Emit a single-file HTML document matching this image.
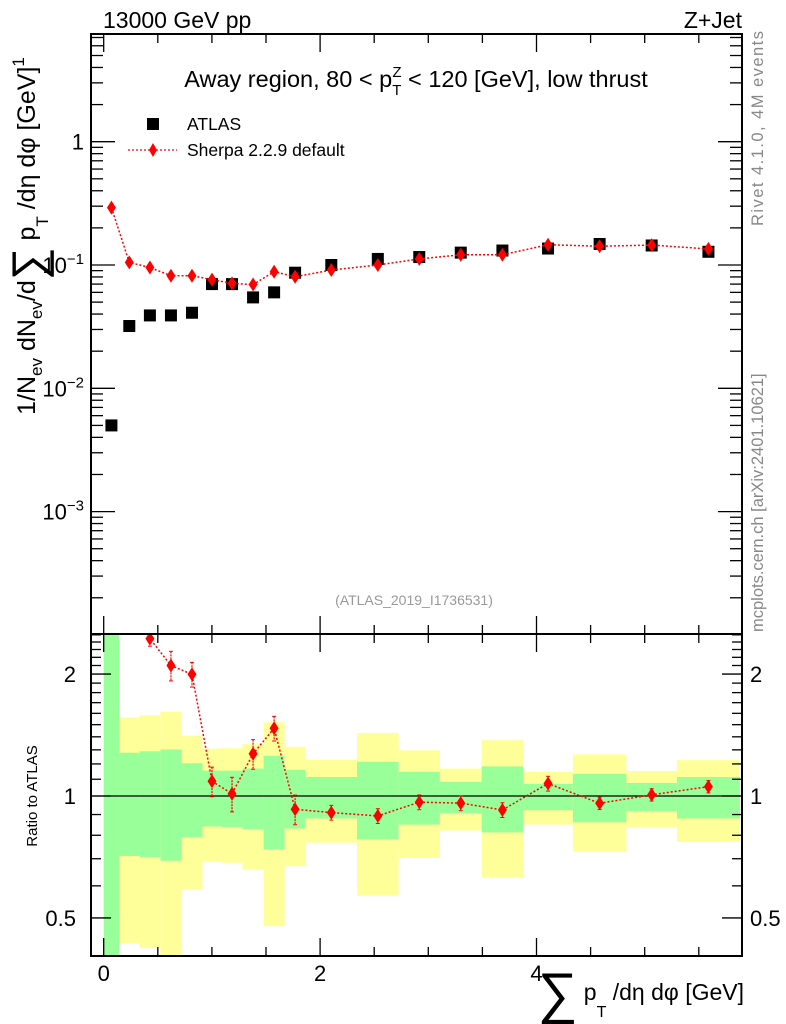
<!DOCTYPE html>
<html><head><meta charset="utf-8">
<style>
html,body{margin:0;padding:0;background:#fff;}
svg{display:block;font-family:"Liberation Sans",Arial,sans-serif;}
</style></head>
<body>
<svg id="chart" width="786" height="1024" viewBox="0 0 786 1024" xmlns="http://www.w3.org/2000/svg">
<defs>
<clipPath id="clipMain"><rect x="91" y="34" width="651" height="600"/></clipPath>
<clipPath id="clipRatio"><rect x="91" y="634" width="651" height="322"/></clipPath>
</defs>
<g id="bands" clip-path="url(#clipRatio)"></g>
<line x1="91" x2="742" y1="796" y2="796" stroke="#000" stroke-width="1.3"/>
<g id="ratioSeries" clip-path="url(#clipRatio)"></g>
<g id="mainSeries" clip-path="url(#clipMain)"></g>
<g id="axes"></g>
<rect x="91" y="34" width="651" height="600" fill="none" stroke="#000" stroke-width="2"/>
<rect x="91" y="634" width="651" height="322" fill="none" stroke="#000" stroke-width="2"/>

<text x="103" y="28" font-size="23">13000 GeV pp</text>
<text x="742" y="28" font-size="23" text-anchor="end">Z+Jet</text>
<text x="416" y="87" font-size="23.5" text-anchor="middle">Away region, 80 &lt; p<tspan dy="8" font-size="15">T</tspan><tspan dx="-9" dy="-18" font-size="15">Z</tspan><tspan dy="10"> &lt; 120 [GeV], low thrust</tspan></text>

<g>
<rect x="147" y="118" width="12" height="12" fill="#000"/>
<text x="187" y="130" font-size="17.5">ATLAS</text>
<line x1="128" x2="177" y1="150" y2="150" stroke="red" stroke-width="1.3" stroke-dasharray="2,2"/>
<polygon points="153,143 157,150 153,157 149,150" fill="red"/>
<text x="187" y="156" font-size="17.5">Sherpa 2.2.9 default</text>
</g>

<text x="414" y="605" font-size="14" fill="#999" text-anchor="middle">(ATLAS_2019_I1736531)</text>
<text transform="translate(763,226) rotate(-90)" font-size="16.5" fill="#888" textLength="195">Rivet 4.1.0,  4M events</text>
<text transform="translate(763,632) rotate(-90)" font-size="16.5" fill="#888">mcplots.cern.ch [arXiv:2401.10621]</text>

<text transform="translate(35,236) rotate(-90)" font-size="25" text-anchor="middle">1/N<tspan dy="7" font-size="17">ev</tspan><tspan dy="-7"> dN</tspan><tspan dy="7" font-size="17">ev</tspan><tspan dy="-7">/d</tspan><tspan font-size="46" dy="9">∑</tspan><tspan dy="-9"> p</tspan><tspan dy="13" font-size="17">T</tspan><tspan dy="-13"> /dη dφ  [GeV]</tspan><tspan dy="-11" font-size="17">1</tspan></text>
<text transform="translate(37,796) rotate(-90)" font-size="15" text-anchor="middle">Ratio to ATLAS</text>
<text x="744" y="1000" font-size="23" text-anchor="end"><tspan font-size="56" dy="12">∑</tspan><tspan dy="-12"> p</tspan><tspan dy="17" font-size="16">T</tspan><tspan dy="-17"> /dη dφ [GeV]</tspan></text>
</svg>
<script>
// ---- data ----
const binEdges = [0,0.143,0.33,0.524,0.719,0.913,1.089,1.283,1.478,1.672,1.866,2.341,2.726,3.107,3.493,3.877,4.336,4.831,5.298,5.88];
const atlasValues = [0.0050,0.032,0.039,0.039,0.041,0.070,0.070,0.0546,0.060,0.0866,0.100,0.112,0.116,0.126,0.131,0.136,0.148,0.144,0.128];
const sherpaValues = [0.292,0.105,0.0954,0.0819,0.0819,0.0761,0.0709,0.0694,0.0882,0.0803,0.0910,0.100,0.112,0.121,0.121,0.146,0.142,0.145,0.135];
const sherpaRelErr = [0.03,0.03,0.03,0.06,0.05,0.06,0.07,0.06,0.05,0.06,0.03,0.03,0.03,0.03,0.03,0.03,0.025,0.025,0.025];
const yellowHi = [3.0,1.563,1.581,1.612,1.410,1.309,1.312,1.342,1.521,1.323,1.229,1.432,1.296,1.169,1.373,1.147,1.267,1.153,1.226];
const greenHi  = [3.0,1.279,1.289,1.303,1.205,1.155,1.155,1.169,1.257,1.160,1.114,1.214,1.147,1.083,1.183,1.071,1.134,1.077,1.114];
const greenLo  = [0.3,0.711,0.707,0.692,0.791,0.841,0.838,0.828,0.738,0.831,0.880,0.782,0.850,0.908,0.813,0.922,0.861,0.917,0.880];
const yellowLo = [0.3,0.432,0.421,0.3,0.589,0.689,0.684,0.658,0.477,0.671,0.767,0.567,0.703,0.822,0.629,0.850,0.730,0.838,0.770];
const xTicks = [0,2,4];
const mainTickExps = [-3,-2,-1,0];
const ratioTickLabels = [0.5,1,2];

// ---- axes functions ----
const NS="http://www.w3.org/2000/svg";
const X = v => 103.7 + v*108.2;
const YM = v => 141.7 - Math.log10(v)*123.3;
const YR = v => 796 - Math.log10(v)*405;
function mk(tag, attrs, parent){const e=document.createElementNS(NS,tag);for(const k in attrs)e.setAttribute(k,attrs[k]);parent.appendChild(e);return e;}

const bands=document.getElementById('bands');
for(let i=0;i<atlasValues.length;i++){
  const x0=X(binEdges[i]), x1=X(binEdges[i+1]);
  const y=mk('rect',{x:x0,y:YR(yellowHi[i]),width:x1-x0,height:YR(yellowLo[i])-YR(yellowHi[i]),fill:'#ffff99'},bands);
  
  
  const g=mk('rect',{x:x0,y:YR(greenHi[i]),width:x1-x0,height:YR(greenLo[i])-YR(greenHi[i]),fill:'#99ff99'},bands);
  
  
}

const centers = binEdges.slice(0,-1).map((e,i)=>(e+binEdges[i+1])/2);
function diamond(cx,cy,parent){
  return mk('polygon',{points:`${cx},${cy-7} ${cx+4.5},${cy} ${cx},${cy+7} ${cx-4.5},${cy}`,fill:'red'},parent);
}
const ms=document.getElementById('mainSeries');
for(let i=0;i<atlasValues.length;i++){
  const s=mk('rect',{x:X(centers[i])-6,y:YM(atlasValues[i])-6,width:12,height:12,fill:'#000'},ms);
  
  
}
let pts=centers.map((c,i)=>`${X(c)},${YM(sherpaValues[i])}`).join(' ');
const ml=mk('polyline',{points:pts,fill:'none',stroke:'red','stroke-width':1.5,'stroke-dasharray':'2,2'},ms);


for(let i=0;i<sherpaValues.length;i++){
  const cx=X(centers[i]),v=sherpaValues[i],e=sherpaRelErr[i];
  mk('line',{x1:cx,x2:cx,y1:YM(v*(1+e)),y2:YM(v*(1-e)),stroke:'red','stroke-width':1.2,'stroke-dasharray':'2,1'},ms);
  const d=diamond(cx,YM(v),ms);
  
  
}
const rs=document.getElementById('ratioSeries');
const ratios=sherpaValues.map((v,i)=>v/atlasValues[i]);
pts=centers.map((c,i)=>`${X(c)},${YR(ratios[i])}`).join(' ');
const rl=mk('polyline',{points:pts,fill:'none',stroke:'red','stroke-width':1.5,'stroke-dasharray':'2,2'},rs);


for(let i=0;i<ratios.length;i++){
  const cx=X(centers[i]),r=ratios[i],e=sherpaRelErr[i]*1.4;
  mk('line',{x1:cx,x2:cx,y1:YR(r*(1+e)),y2:YR(r*(1-e)),stroke:'red','stroke-width':1.2,'stroke-dasharray':'2,1'},rs);
  mk('line',{x1:cx-2,x2:cx+2,y1:YR(r*(1+e)),y2:YR(r*(1+e)),stroke:'red','stroke-width':1},rs);
  mk('line',{x1:cx-2,x2:cx+2,y1:YR(r*(1-e)),y2:YR(r*(1-e)),stroke:'red','stroke-width':1},rs);
  const d=diamond(cx,YR(r),rs);
  
  
}

const ax=document.getElementById('axes');
function tick(x1,y1,x2,y2){mk('line',{x1,y1,x2,y2,stroke:'#000','stroke-width':1.3},ax);}
for(let v=0;v<=5.5;v+=0.5){
  const x=X(v), L=(xTicks.includes(v))?18:9;
  tick(x,34,x,34+L); tick(x,634,x,634-L); tick(x,634,x,634+L); tick(x,956,x,956-L);
}
xTicks.forEach(v=>{
  const t=mk('text',{x:X(v),y:981,'font-size':22,'text-anchor':'middle'},ax);t.textContent=v;
  
  
});
for(let e=-4;e<=0;e++){
  for(let m=1;m<10;m++){
    const v=m*Math.pow(10,e), y=YM(v);
    if(y<34||y>634)continue;
    const L=m===1?24:12;
    tick(91,y,91+L,y); tick(742,y,742-L,y);
  }
}
mainTickExps.forEach(e=>{
  const t=mk('text',{x:84,y:YM(Math.pow(10,e))+8,'font-size':22,'text-anchor':'end'},ax);
  
  
  if(e===0){t.textContent='1';}
  else{t.innerHTML=`10<tspan dy="-9" font-size="15">−${-e}</tspan>`;}
});
for(let v=0.4;v<=2.55;v+=0.1){
  const y=YR(v); if(y<634||y>956)continue;
  const big=[0.5,1,2].some(b=>Math.abs(b-v)<1e-6);
  const L=big?20:10;
  tick(91,y,91+L,y); tick(742,y,742-L,y);
}
ratioTickLabels.forEach(v=>{
  const a=mk('text',{x:76,y:YR(v)+8,'font-size':22,'text-anchor':'end'},ax);a.textContent=v;
  
  
  const b=mk('text',{x:750,y:YR(v)+8,'font-size':22},ax);b.textContent=v;
  
  
});
</script>
</body></html>
